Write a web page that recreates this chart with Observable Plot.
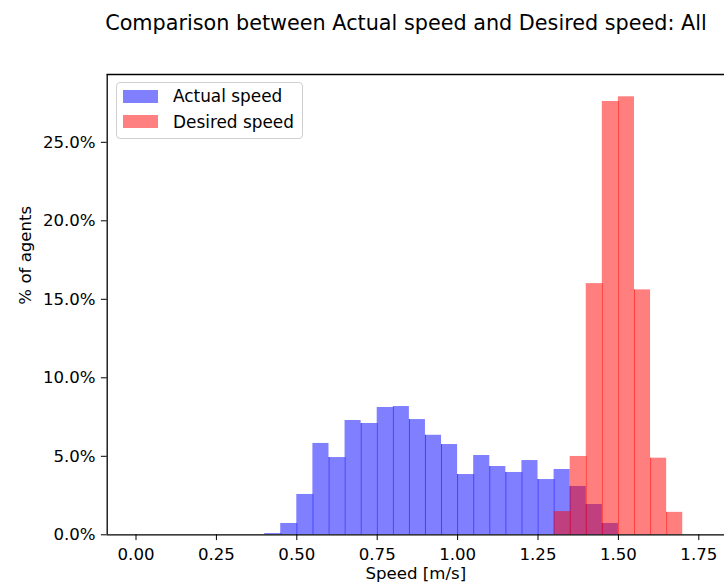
<!DOCTYPE html>
<html>
<head>
<meta charset="utf-8">
<script src="https://cdn.jsdelivr.net/npm/d3@7"></script>
<script src="https://cdn.jsdelivr.net/npm/@observablehq/plot@0.6"></script>
<style>
  html, body { margin: 0; padding: 0; background: white; }
  #wrap { position: relative; width: 724px; height: 588px; overflow: hidden; font-family: "DejaVu Sans", sans-serif; color: black; }
  #title { position: absolute; left: 56px; width: 700px; top: 13.4px; text-align: center; font-size: 20.75px; line-height: 1; white-space: nowrap; }
  #legend { position: absolute; left: 116px; top: 82px; width: 185px; height: 55px; border: 1px solid #d0d0d0; border-radius: 4px; background: rgba(255,255,255,0.8); font-size: 16.9px; }
  .item { position: absolute; left: 6px; height: 13px; }
  .sw { position: absolute; left: 0; width: 35px; height: 12.7px; }
  .lab { position: absolute; left: 50px; top: -1.6px; line-height: 1; white-space: nowrap; }
  #chart { position: absolute; left: 0; top: 0; }
</style>
</head>
<body>
<div id="wrap">
  <div id="chart"></div>
  <div id="title">Comparison between Actual speed and Desired speed: All</div>
  <div id="legend">
    <div class="item" style="top:7px"><div class="sw" style="background:#8080ff"></div><div class="lab">Actual speed</div></div>
    <div class="item" style="top:32.3px"><div class="sw" style="background:#ff8080"></div><div class="lab">Desired speed</div></div>
  </div>
</div>
<script>
// Histogram bins (start of each 0.05 m/s bin)
const binStarts = [0.00,0.05,0.10,0.15,0.20,0.25,0.30,0.35,0.40,0.45,0.50,0.55,0.60,0.65,0.70,0.75,0.80,0.85,0.90,0.95,1.00,1.05,1.10,1.15,1.20,1.25,1.30,1.35,1.40,1.45,1.50,1.55,1.60,1.65,1.70];
const binWidth = 0.05;
// % of agents per bin
const actualSpeed = [0,0,0,0,0,0,0,0,0.08,0.72,2.57,5.82,4.92,7.28,7.09,8.11,8.17,7.34,6.34,5.75,3.84,5.05,4.35,3.97,4.73,3.52,4.16,3.08,1.93,0.72,0,0,0,0,0];
const desiredSpeed = [0,0,0,0,0,0,0,0,0,0,0,0,0,0,0,0,0,0,0,0,0,0,0,0,0,0,1.48,4.99,16.0,27.6,27.9,15.6,4.88,1.43,0];
const xTicks = [0, 0.25, 0.5, 0.75, 1.0, 1.25, 1.5, 1.75];
const yTicks = [0, 5, 10, 15, 20, 25];
const xLabel = "Speed [m/s]";
const yLabel = "% of agents";
const xDomain = [-0.0896, 1.8299];
const yDomain = [0, 29.32];

function bars(values) {
  return binStarts.map((s, i) => ({x1: s, x2: s + binWidth, y: values[i]})).filter(d => d.y > 0);
}
function seams(values) {
  const out = [];
  for (let i = 1; i < binStarts.length; i++) {
    const h = Math.min(values[i - 1], values[i]);
    if (h > 0) out.push({x: binStarts[i], y: h});
  }
  return out;
}

const plot = Plot.plot({
  width: 724,
  height: 588,
  marginTop: 74,
  marginBottom: 53.7,
  marginLeft: 106.7,
  marginRight: 0,
  style: {fontFamily: "DejaVu Sans", fontSize: "16.6px", color: "black", background: "transparent", overflow: "visible"},
  x: {domain: xDomain, ticks: xTicks, tickFormat: d => d.toFixed(2), tickSize: 5.8, tickPadding: 8, label: null},
  y: {domain: yDomain, ticks: yTicks, tickFormat: d => d.toFixed(1) + "%", tickSize: 5.8, tickPadding: 5.8, label: null},
  marks: [
    Plot.rectY(bars(actualSpeed), {x1: "x1", x2: "x2", y: "y", fill: "blue", fillOpacity: 0.5}),
    Plot.ruleX(seams(actualSpeed), {x: "x", y1: 0, y2: "y", stroke: "blue", strokeOpacity: 0.5, strokeWidth: 1}),
    Plot.rectY(bars(desiredSpeed), {x1: "x1", x2: "x2", y: "y", fill: "red", fillOpacity: 0.5}),
    Plot.ruleX(seams(desiredSpeed), {x: "x", y1: 0, y2: "y", stroke: "red", strokeOpacity: 0.5, strokeWidth: 1}),
    Plot.ruleY([yDomain[0]], {stroke: "black", strokeWidth: 1.3}),
    Plot.ruleY([yDomain[1]], {stroke: "black", strokeWidth: 1.3}),
    Plot.ruleX([xDomain[0]], {stroke: "black", strokeWidth: 1.3}),
    Plot.text([xLabel], {text: d => d, frameAnchor: "bottom", dy: 44.4, fontSize: 16.6, fill: "black"}),
    Plot.text([yLabel], {text: d => d, frameAnchor: "left", dx: -82, rotate: -90, fontSize: 16.6, fill: "black"})
  ]
});
document.getElementById("chart").appendChild(plot);
</script>
</body>
</html>
